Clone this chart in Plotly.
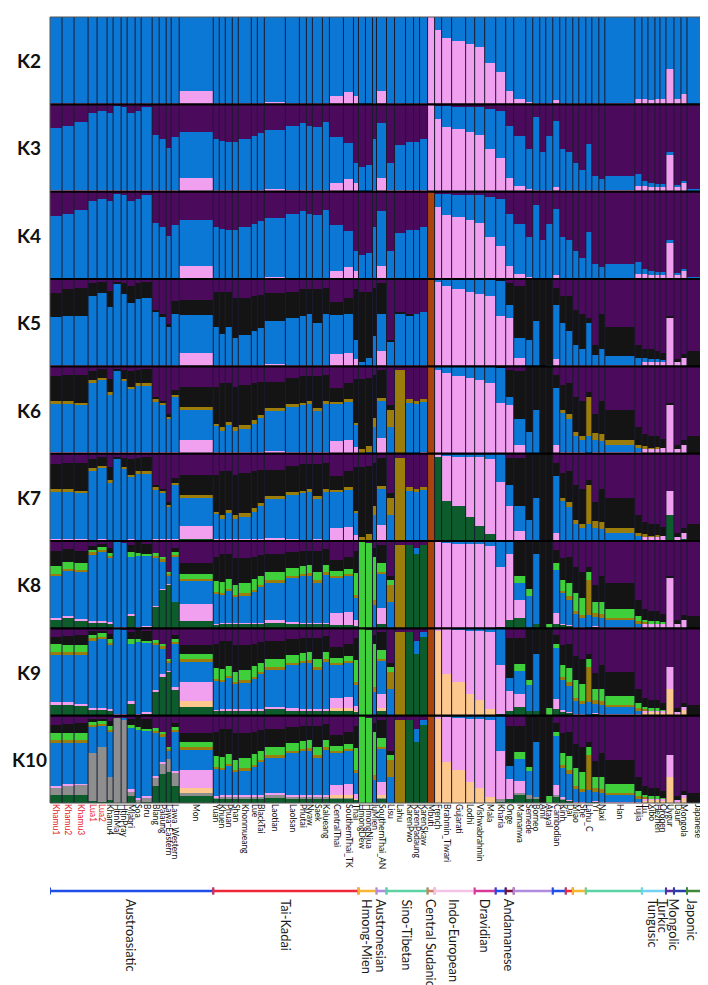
import plotly.graph_objects as go

# populations, left to right, and their widths (number of individuals shown)
populations = [
  "Khamu1", "Khamu2", "Khamu3", "Lua1", "Lua2", "Khamu4", "HtinMal", "HtinPray", "Mlabri", "Soa",
  "Bru", "Blang", "Palaung", "Lawa_Eastern", "Lawa_Western", "Mon", "Yuan", "Khuen", "Phuan", "Shan",
  "Khonmueang", "Lue", "BlackTai", "Laotian", "LaoIsan", "Phutai", "Nyaw", "Saek", "Kalueang", "CentralThai",
  "SouthernThai_TK", "Thai", "HmongDew", "HmongNjua", "IuMien", "SouthernThai_AN", "Lisu", "Lahu", "KarenPwo", "KarenPadaung",
  "KarenSkaw", "Mbuti", "French", "Brahmin_Tiwari", "Gujarati", "Lodhi", "Vishwabrahmin", "Mala", "Kharia", "Onge",
  "Mamanwa", "Semede", "Borneo", "Ami", "Atayal", "Cambodian", "Kinh", "Dai", "Miao", "She",
  "Lahu_C", "Yi", "Naxi", "Han", "Tujia", "Tu", "Xibo", "Hezhen", "Oroqen", "Uygur",
  "Daur", "Mongola", "Japanese",
]
sample_sizes = [
  12, 12, 14, 9, 10, 6, 8, 6, 8, 6,
  11, 7, 7, 5, 8, 34, 6, 6, 7, 6,
  13, 6, 7, 21, 14, 7, 6, 10, 7, 14,
  10, 5, 7, 7, 4, 10, 8, 11, 8, 6,
  8, 7, 7, 10, 14, 9, 10, 11, 10, 8,
  12, 7, 7, 6, 7, 7, 6, 7, 6, 7,
  6, 7, 6, 30, 7, 6, 7, 5, 6, 8,
  7, 6, 21,
]
red_labels = ["Khamu1", "Khamu2", "Khamu3", "Lua1", "Lua2"]

# ancestry proportions (%) per population, one list per K
# B blue, P purple, K pink, N black, O olive, D dark green, G light green, R rust, E peach, Y grey
K2 = [
  "B98 K2", "B98 K2", "B98 K2", "B99 K1", "B98 K2", "B99 K1", "B99 K1", "B99 K1", "B98 K2", "B99 K1",
  "B98 K2", "B99 K1", "B98 K2", "B98 K2", "B98 K2", "B85 K15", "B98 K2", "B99 K1", "B98 K2", "B99 K1",
  "B98 K2", "B99 K1", "B99 K1", "B97 K3", "B98 K2", "B99 K1", "B99 K1", "B98 K2", "B99 K1", "B90 K10",
  "B86 K14", "B90 K10", "B100", "B100", "B99 K1", "B85 K15", "B99 K1", "B99 K1", "B99 K1", "B99 K1",
  "B98 K2", "K100", "B15 K85", "B24 K76", "B28 K72", "B31 K69", "B34 K66", "B53 K47", "B63 K37", "B85 K15",
  "B94 K6", "B97 K3", "B98 K2", "B99 K1", "B99 K1", "B95 K5", "B98 K2", "B99 K1", "B99 K1", "B99 K1",
  "B99 K1", "B99 K1", "B99 K1", "B99 K1", "B94 K6", "B94 K6", "B95 K5", "B94 K6", "B94 K6", "B60 K40",
  "B94 K6", "B88 K12", "B100",
]
K3 = [
  "P28 B70 K2", "P25 B73 K2", "P21 B77 K2", "P10 B89 K1", "P8 B90 K2", "P10 B89 K1", "P2 B97 K1", "P3 B96 K1", "P10 B88 K2", "P8 B91 K1",
  "P3 B95 K2", "P36 B63 K1", "P40 B58 K2", "P50 B48 K2", "P38 B60 K2", "P32 B53 K15", "P40 B58 K2", "P42 B57 K1", "P44 B54 K2", "P44 B55 K1",
  "P40 B58 K2", "P37 B62 K1", "P33 B66 K1", "P30 B67 K3", "P25 B73 K2", "P22 B77 K1", "P25 B74 K1", "P26 B72 K2", "P21 B78 K1", "P38 B52 K10",
  "P45 B41 K14", "P68 B22 K10", "P72 B28", "P70 B30", "P40 B59 K1", "P22 B63 K15", "P67 B32 K1", "P47 B52 K1", "P44 B55 K1", "P44 B55 K1",
  "P40 B58 K2", "K100", "P2 B15 K83", "P2 B24 K74", "P3 B26 K71", "P3 B29 K68", "P4 B31 K65", "P6 B46 K48", "P8 B54 K38", "P25 B60 K15",
  "P37 B57 K6", "P52 B45 K3", "P15 B83 K2", "P55 B44 K1", "P37 B62 K1", "P20 B75 K5", "P52 B46 K2", "P55 B44 K1", "P67 B32 K1", "P75 B24 K1",
  "P46 B53 K1", "P83 B16 K1", "P86 B13 K1", "P82 B17 K1", "P80 B14 K6", "P88 B6 K6", "P90 B5 K5", "P92 B2 K6", "P92 B2 K6", "P55 B3 K42",
  "P93 B1 K6", "P88 B2 K10", "P97 B3",
]
K4 = [
  "P28 B70 K2", "P25 B73 K2", "P21 B77 K2", "P10 B89 K1", "P8 B90 K2", "P10 B89 K1", "P2 B97 K1", "P3 B96 K1", "P10 B88 K2", "P8 B91 K1",
  "P3 B95 K2", "P36 B63 K1", "P40 B58 K2", "P50 B48 K2", "P38 B60 K2", "P32 B53 K15", "P40 B58 K2", "P42 B57 K1", "P44 B54 K2", "P44 B55 K1",
  "P40 B58 K2", "P37 B62 K1", "P33 B66 K1", "P30 B67 K3", "P25 B73 K2", "P22 B77 K1", "P25 B74 K1", "P26 B72 K2", "P21 B78 K1", "P38 B52 K10",
  "P45 B41 K14", "P68 B22 K10", "P72 B28", "P70 B30", "P40 B59 K1", "P22 B63 K15", "P67 B32 K1", "P47 B52 K1", "P44 B55 K1", "P44 B55 K1",
  "P40 B58 K2", "R100", "P2 B15 K83", "P2 B24 K74", "P3 B26 K71", "P3 B29 K68", "P4 B31 K65", "P6 B46 K48", "P8 B54 K38", "P25 B60 K15",
  "P37 B57 K6", "P52 B45 K3", "P15 B83 K2", "P55 B44 K1", "P37 B62 K1", "P20 B75 K5", "P52 B46 K2", "P55 B44 K1", "P67 B32 K1", "P75 B24 K1",
  "P46 B53 K1", "P83 B16 K1", "P86 B13 K1", "P82 B17 K1", "P80 B14 K6", "P88 B6 K6", "P90 B5 K5", "P92 B2 K6", "P92 B2 K6", "P55 B3 K42",
  "P93 B1 K6", "P88 B2 K10", "P97 B3",
]
K5 = [
  "P16 N27 B55 K2", "P12 N30 B56 K2", "P10 N32 B56 K2", "P5 N15 B79 K1", "P3 N13 B82 K2", "P14 N18 B67 K1", "P3 N2 B94 K1", "P5 N12 B82 K1", "P8 N20 B70 K2", "P5 N18 B76 K1",
  "P4 N18 B76 K2", "P35 N3 B60 K2", "P40 N3 B55 K2", "P52 N3 B43 K2", "P25 N15 B58 K2", "P24 N17 B44 K15", "P15 N40 B43 K2", "P15 N48 B35 K2", "P15 N40 B43 K2", "P22 N45 B31 K2",
  "P22 N42 B34 K2", "P20 N40 B39 K1", "P18 N38 B43 K1", "P16 N32 B49 K3", "P15 N30 B53 K2", "P12 N30 B57 K1", "P12 N28 B59 K1", "P12 N38 B48 K2", "P10 N30 B59 K1", "P26 N15 B45 K14",
  "P22 N18 B45 K15", "P12 N58 B22 K8", "P15 N80 B5", "P15 N75 B10", "P10 N55 B34 K1", "P5 N35 B42 K18", "P70 N2 B27 K1", "P38 N2 B59 K1", "P40 N2 B57 K1", "P40 B59 K1",
  "P38 B60 K2", "R100", "B4 K96", "B8 K92", "B12 K88", "B15 K85", "B17 K83", "B20 K80", "N2 B40 K58", "P5 N25 B15 K55",
  "P8 N60 B22 K10", "N70 B30", "N48 B52", "N100", "N98 B2", "P10 N20 B62 K8", "P20 N30 B48 K2", "P20 N40 B38 K2", "P35 N40 B24 K1", "P40 N40 B19 K1",
  "P45 N5 B49 K1", "P75 N12 B12 K1", "P40 N40 B19 K1", "P55 N33 B11 K1", "P75 N15 B8 K2", "P80 N10 B5 K5", "P80 N12 B3 K5", "P82 N10 B2 K6", "P85 N8 B1 K6", "P42 N3 K55",
  "P92 N3 K5", "P86 N4 K10", "P82 N18",
]
K6 = [
  "P12 N28 O4 B54 K2", "P10 N30 O4 B54 K2", "P10 N32 O3 B53 K2", "P6 N10 O3 B80 K1", "P4 N10 O2 B82 K2", "P15 N15 O3 B66 K1", "P3 N2 B94 K1", "P5 N10 O2 B82 K1", "P6 N18 O2 B72 K2", "P5 N15 O2 B77 K1",
  "P4 N16 O2 B76 K2", "P35 N3 O3 B57 K2", "P40 N2 O3 B53 K2", "P55 N3 O3 B37 K2", "P28 N5 O3 B62 K2", "P24 N23 O3 B35 K15", "P24 N42 O3 B29 K2", "P20 N50 O4 B24 K2", "P20 N44 O4 B30 K2", "P24 N46 O4 B24 K2",
  "P22 N46 O4 B26 K2", "P20 N42 O4 B32 K2", "P18 N38 O4 B38 K2", "P18 N30 O4 B45 K3", "P14 N30 O3 B51 K2", "P12 N30 O3 B54 K1", "P12 N28 O3 B56 K1", "P12 N36 O3 B47 K2", "P10 N30 O3 B56 K1", "P25 N16 O3 B42 K14",
  "P20 N18 O3 B44 K15", "P15 N50 O3 B25 K7", "P15 N80 O5", "P14 N78 O6 B2", "P10 N50 O10 B30", "P5 N32 O3 B42 K18", "P45 N5 O20 B30", "P5 O95", "P38 O4 B58", "P40 O3 B57",
  "P38 O3 B57 K2", "R100", "B5 K95", "B8 K92", "B12 K88", "B14 K86", "B16 K84", "B20 K80", "N2 B40 K58", "P5 N30 B10 K55",
  "P6 N55 B30 K9", "N75 B25", "N50 B50", "N100", "N100", "P10 N15 B66 K9", "P22 N28 O4 B44 K2", "P20 N35 O6 B37 K2", "P35 N40 O5 B19 K1", "P40 N40 O5 B14 K1",
  "P30 N5 O45 B20", "P55 N22 O8 B14 K1", "P40 N38 O8 B13 K1", "P50 N35 O5 B9 K1", "P70 N20 O4 B4 K2", "P78 N14 O2 B1 K5", "P80 N14 O1 K5", "P80 N13 O1 K6", "P84 N10 K6", "P42 N3 K55",
  "P90 N5 K5", "P85 N5 K10", "P80 N20",
]
K7 = [
  "P12 N28 O4 B53 K2 D1", "P10 N30 O4 B53 K2 D1", "P10 N32 O3 B52 K2 D1", "P6 N10 O3 B79 K1 D1", "P4 N10 O2 B81 K2 D1", "P15 N15 O3 B65 K1 D1", "P3 N2 B94 K1", "P5 N10 O2 B82 K1", "P6 N18 O2 B71 K2 D1", "P5 N15 O2 B77 K1",
  "P4 N16 O2 B76 K2", "P35 N3 O3 B56 K2 D1", "P40 N2 O3 B52 K2 D1", "P55 N3 O3 B36 K2 D1", "P28 N5 O3 B61 K2 D1", "P24 N23 O3 B33 K14 D3", "P24 N42 O3 B28 K2 D1", "P20 N50 O4 B23 K2 D1", "P20 N44 O4 B29 K2 D1", "P24 N46 O4 B23 K2 D1",
  "P22 N46 O4 B25 K2 D1", "P20 N42 O4 B31 K2 D1", "P18 N38 O4 B37 K2 D1", "P18 N30 O4 B44 K3 D1", "P14 N30 O3 B50 K2 D1", "P12 N30 O3 B54 K1", "P12 N28 O3 B56 K1", "P12 N36 O3 B46 K2 D1", "P10 N30 O3 B56 K1", "P25 N16 O3 B41 K13 D2",
  "P20 N18 O3 B43 K14 D2", "P15 N50 O3 B25 K6 D1", "P15 N80 O5", "P14 N78 O6 B2", "P10 N50 O10 B30", "P5 N32 O3 B41 K17 D2", "P45 N5 O20 B30", "P5 O95", "P38 O4 B58", "P40 O3 B57",
  "P38 O3 B57 K2", "R100", "D97 K3", "D46 K52 B2", "D40 K57 B3", "D28 K68 B4", "D18 K78 B4", "D8 K86 B6", "D2 B32 K66", "P5 N30 B25 K40",
  "P5 N55 B28 K12", "N75 B25", "N50 B50", "N100", "N100", "P10 N15 B66 K8 D1", "P22 N28 O4 B44 K1 D1", "P20 N35 O6 B37 K1 D1", "P35 N40 O5 B19 K1", "P40 N40 O5 B14 K1",
  "P30 N5 O45 B20", "P55 N22 O8 B14 K1", "P40 N38 O8 B13 K1", "P50 N35 O5 B9 K1", "P70 N20 O4 B4 K1 D1", "P78 N14 O2 B1 K3 D2", "P80 N14 O1 K3 D2", "P80 N13 O1 K4 D2", "P84 N10 K4 D2", "P42 K28 D30",
  "P90 N5 K3 D2", "P85 N5 K7 D3", "P80 N20",
]
K8 = [
  "P11 N18 G9 O2 B48 K2 D10", "P9 N15 G8 O2 B52 K2 D12", "P12 N13 G8 O2 B54 K2 D9", "P6 N4 G3 O2 B77 K1 D7", "P4 N3 G3 O2 B80 K1 D7", "P8 N6 G3 O2 B74 K1 D6", "P1 B98 K1", "P2 B97 K1", "P5 N8 G5 B66 K1 D15", "P1 N13 G3 B82 K1",
  "P3 N12 G2 B80 K1 D2", "P14 G3 O2 B55 K1 D25", "P18 G3 O2 B32 K1 D44", "P35 G2 O2 B10 K1 D50", "P8 N5 G3 O2 B52 D30", "P25 N13 G5 O2 B27 K20 D8", "P18 N28 G12 O2 B35 K1 D4", "P15 N32 G12 O2 B33 K1 D5", "P15 N28 G12 O2 B37 K1 D5", "P20 N30 G12 O2 B30 K1 D5",
  "P20 N28 G12 O2 B32 K1 D5", "P18 N26 G12 O2 B36 K1 D5", "P16 N24 G10 O2 B42 K1 D5", "P15 N20 G10 O2 B44 K3 D6", "P13 N18 G9 O2 B51 K2 D5", "P11 N18 G9 O2 B54 K1 D5", "P11 N17 G9 O2 B55 K1 D5", "P11 N24 G10 O2 B47 K1 D5", "P9 N18 G9 O2 B56 K1 D5", "P22 N12 G6 O2 B40 K14 D4",
  "P18 N14 G6 O2 B41 K15 D4", "P12 N25 G25 O3 B25 K7 D3", "G100", "P2 G98", "P8 N10 G50 O5 B27", "P5 N20 G10 O2 B40 K18 D5", "P40 N5 G5 O20 B30", "P5 O95", "P5 D95", "P8 B7 D85",
  "P5 D95", "R100", "K100", "B2 K98", "B3 K97", "B4 K96", "B4 K96", "B6 K94", "B30 K68 D2", "B15 K75 D10",
  "N40 G8 B20 K20 D12", "N55 G8 B35 D2", "N15 B80 D5", "N100", "N95 G5", "P10 N15 G8 B50 K12 D5", "P20 N25 G12 O3 B35 K1 D4", "P18 N30 G15 O4 B29 K1 D3", "P30 N30 G20 O4 B14 K1 D1", "P35 N30 G20 O3 B11 K1",
  "P30 N5 G10 O40 B15", "P50 N20 G12 O5 B10 K1 D2", "P40 N30 G14 O4 B10 K1 D1", "P48 N30 G10 O3 B8 K1", "P68 N18 G6 O2 B4 K2", "P78 N12 G3 O1 B1 K5", "P80 N12 G2 K6", "P80 N12 G2 K6", "P84 N9 G1 K6", "P40 N2 K58",
  "P90 N5 K5", "P85 N5 K10", "P86 N14",
]
K9 = [
  "P10 N8 G10 O2 B55 K3 D12", "P9 N10 G9 O2 B55 K3 D12", "P8 N12 G8 O2 B57 K2 D11", "P4 N4 G4 O2 B78 K1 D7", "P3 N3 G4 O2 B80 K1 D7", "P7 N6 G4 O2 B74 K1 D6", "P1 B98 K1", "P2 B97 K1", "P5 N8 G5 B66 K2 D14", "P1 N12 G3 B82 K2",
  "P3 N12 G2 B79 K2 D2", "P14 G3 O2 B52 K2 D27", "P18 G3 O2 B30 K2 D45", "P35 G2 O2 B10 K1 D50", "P8 N5 G3 O2 B50 K2 D30", "P20 N10 G6 O2 B24 K22 E6 D10", "P18 N28 G12 O2 B34 K1 D5", "P15 N32 G12 O2 B32 K1 D6", "P15 N28 G12 O2 B36 K1 D6", "P20 N30 G12 O2 B29 K1 D6",
  "P20 N28 G12 O2 B31 K1 D6", "P18 N26 G12 O2 B35 K1 D6", "P16 N24 G10 O2 B41 K1 D6", "P15 N20 G10 O2 B43 K3 D7", "P13 N18 G9 O2 B50 K2 D6", "P11 N18 G9 O2 B53 K1 D6", "P11 N17 G9 O2 B54 K1 D6", "P11 N24 G10 O2 B46 K1 D6", "P9 N18 G9 O2 B55 K1 D6", "P22 N12 G6 O2 B38 K12 E3 D5",
  "P18 N14 G6 O2 B39 K13 E3 D5", "P12 N25 G25 O3 B24 K6 E1 D4", "G100", "P2 G98", "P8 N10 G50 O5 B27", "P5 N20 G10 O2 B39 K16 E2 D6", "P40 N5 G5 O20 B30", "P5 O95", "P5 D95", "P15 B15 D70",
  "P5 B5 D90", "R100", "E97 K3", "E47 K52 B1", "E38 K60 B2", "E24 K73 B3", "E17 K80 B3", "E7 K88 B5", "B42 K56 D2", "P12 N45 B15 K23 D5",
  "P12 N29 G8 B27 K15 D9", "N60 G5 B30 D5", "N30 B65 D5", "N100", "N92 G8", "P8 N10 G5 B58 K12 D7", "P20 N22 G14 O3 B35 K2 D4", "P18 N28 G16 O4 B30 K1 D3", "P32 N28 G20 O4 B14 K1 D1", "P36 N28 G20 O3 B12 K1",
  "P30 N5 G10 O40 B15", "P52 N18 G12 O5 B10 K1 D2", "P42 N28 G14 O4 B10 K1 D1", "P50 N28 G10 O3 B8 K1", "P70 N16 G6 O2 B4 K1 E1", "P80 N10 G3 O1 B1 K2 E3", "P82 N10 G2 K2 E4", "P82 N10 G2 K2 E4", "P86 N8 G1 K2 E3", "P45 K25 E30",
  "P92 N4 K2 E2", "P86 N4 K4 E6", "P88 N12",
]
K10 = [
  "P10 N9 G9 O2 B50 Y8 K2 D10", "P9 N10 G9 O2 B48 Y10 K2 D10", "P8 N12 G8 O2 B48 Y12 K1 D9", "P4 N3 G3 O2 B30 Y55 D3", "P3 N3 G3 O2 B25 Y62 D2", "P6 N6 G4 O2 B52 Y26 D4", "P2 Y98", "P2 B2 Y96", "P4 N6 G4 B70 Y6 K2 D8", "P1 N12 G3 B78 Y4 K2",
  "P3 N12 G2 B75 Y6 K1 D1", "P14 G3 O2 B50 Y10 K1 D20", "P18 G3 O2 B30 Y12 K1 D34", "P35 G2 O2 B10 Y15 D36", "P8 N5 G3 O2 B45 Y15 K2 D20", "P20 N10 G6 O2 B24 Y4 K20 E6 D8", "P18 N28 G12 O2 B32 Y2 K1 D5", "P15 N32 G12 O2 B30 Y2 K1 D6", "P15 N28 G12 O2 B34 Y2 K1 D6", "P20 N30 G12 O2 B27 Y2 K1 D6",
  "P20 N28 G12 O2 B29 Y2 K1 D6", "P18 N26 G12 O2 B33 Y2 K1 D6", "P16 N24 G10 O2 B39 Y2 K1 D6", "P15 N20 G10 O2 B41 Y2 K3 D7", "P13 N18 G9 O2 B48 Y2 K2 D6", "P11 N18 G9 O2 B51 Y2 K1 D6", "P11 N17 G9 O2 B52 Y2 K1 D6", "P11 N24 G10 O2 B44 Y2 K1 D6", "P9 N18 G9 O2 B53 Y2 K1 D6", "P22 N12 G6 O2 B37 Y1 K12 E3 D5",
  "P18 N14 G6 O2 B38 Y1 K13 E3 D5", "P12 N25 G25 O3 B24 K6 E1 D4", "G100", "P2 G98", "P8 N10 G50 O5 B27", "P5 N20 G10 O2 B38 Y1 K16 E2 D6", "P40 N5 G5 O20 B30", "P5 O95", "P5 D95", "P15 B15 D70",
  "P5 B5 D90", "R100", "E97 K3", "E47 K52 B1", "E38 K60 B2", "E24 K73 B3", "E17 K80 B3", "E7 K88 B5", "B40 Y3 K55 D2", "P12 N45 B15 K23 D5",
  "P12 N29 G8 B25 Y3 K14 D9", "N58 G5 B27 Y5 D5", "N30 B63 Y2 D5", "N100", "N92 G8", "P8 N10 G5 B56 Y3 K11 D7", "P20 N22 G14 O3 B34 Y1 K2 D4", "P18 N28 G16 O4 B30 K1 D3", "P32 N28 G20 O4 B14 K1 D1", "P36 N28 G20 O3 B12 K1",
  "P30 N5 G10 O40 B15", "P52 N18 G12 O5 B10 K1 D2", "P42 N28 G14 O4 B10 K1 D1", "P50 N28 G10 O3 B8 K1", "P70 N16 G6 O2 B4 K1 E1", "P80 N10 G3 O1 B1 K2 E3", "P82 N10 G2 K2 E4", "P82 N10 G2 K2 E4", "P86 N8 G1 K2 E3", "P45 K25 E30",
  "P92 N4 K2 E2", "P86 N4 K4 E6", "P88 N12",
]
row_names = ["K2", "K3", "K4", "K5", "K6", "K7", "K8", "K9", "K10"]
rows = [K2, K3, K4, K5, K6, K7, K8, K9, K10]

# language families: (name, first population, last population)
families = [
  ("Austroasiatic", 0, 15), ("Tai-Kadai", 16, 31), ("Hmong-Mien", 32, 34), ("Austronesian", 35, 35),
  ("Sino-Tibetan", 36, 40), ("Central Sudanic", 41, 41), ("Indo-European", 42, 45), ("Dravidian", 46, 47),
  ("Austroasiatic", 48, 48), ("Andamanese", 49, 49), ("Austronesian", 50, 54), ("Austroasiatic", 55, 56),
  ("Tai-Kadai", 57, 57), ("Hmong-Mien", 58, 59), ("Sino-Tibetan", 60, 64), ("Tungusic", 65, 68),
  ("Turkic", 69, 69), ("Mongolic", 70, 71), ("Japonic", 72, 72),
]

comp_colors = {
  "D": "#0d5c2c", "Y": "#8e8e8e", "E": "#fcc88e", "K": "#f0a0ee", "B": "#0a78d4",
  "O": "#9b7d0c", "G": "#3fcf3a", "N": "#141414", "P": "#4b0a5c", "R": "#a8440c",
}
stack_order = ["D", "Y", "E", "K", "B", "O", "G", "N", "P", "R"]
family_colors = {
  "Austroasiatic": "#1f4ee8", "Tai-Kadai": "#ee2a3a", "Hmong-Mien": "#f7b531", "Austronesian": "#b08be0",
  "Sino-Tibetan": "#5cd3a5", "Central Sudanic": "#cf7d5e", "Indo-European": "#f5c2e8", "Dravidian": "#d8379a",
  "Andamanese": "#7b1138", "Tungusic": "#6fd2f2", "Turkic": "#5b2aa0", "Mongolic": "#2b3ea8", "Japonic": "#3d8a3a",
}
label_shift = {"Turkic": -7, "Mongolic": -6, "Japonic": -5}

W, H = 708, 985
x0p, x1p = 42 / W, 700 / W
ytop, ybot = 1 - 9 / H, 1 - 795 / H
rh = (ytop - ybot) / len(rows)

edges = [0]
for s in sample_sizes:
  edges.append(edges[-1] + s)
centers = [(edges[i] + edges[i + 1]) / 2 for i in range(len(sample_sizes))]
total = edges[-1]


def parse(entry):
  vals = {}
  for tok in entry.split():
    vals[tok[0]] = float(tok[1:])
  tot = sum(vals.values())
  return {k: 100 * v / tot for k, v in vals.items()}


fig = go.Figure()
layout = {}
for r, (name, data) in enumerate(zip(row_names, rows)):
  parsed = [parse(e) for e in data]
  sfx = "" if r == 0 else str(r + 1)
  for c in stack_order:
    ys = [p.get(c, 0) for p in parsed]
    if not any(ys):
      continue
    fig.add_trace(go.Bar(
      x=centers, y=ys, width=sample_sizes, marker=dict(color=comp_colors[c], line=dict(width=0)),
      xaxis="x" + sfx, yaxis="y" + sfx, showlegend=False, hoverinfo="skip",
    ))
  top = ytop - r * rh
  last = r == len(rows) - 1
  layout["xaxis" + sfx] = dict(
    domain=[x0p, x1p], range=[0, total], anchor="y" + sfx, showgrid=False, zeroline=False,
    showticklabels=last, ticks="", automargin=False,
  )
  layout["yaxis" + sfx] = dict(
    domain=[top - rh, top], range=[0, 100], anchor="x" + sfx, showgrid=False, zeroline=False,
    showticklabels=False, automargin=False,
  )

ticktext = [f"<span style='color:#e3202b'>{p}</span>" if p in red_labels else p for p in populations]
layout["xaxis" + str(len(rows))].update(
  tickvals=centers, ticktext=ticktext, tickangle=90,
  tickfont=dict(family="Lato, Open Sans, sans-serif", size=8.5, color="#111"),
)

shapes = []
# population separators
for e in edges[1:-1]:
  shapes.append(dict(type="line", xref="x", yref="paper", x0=e, x1=e, y0=ybot, y1=ytop,
                     line=dict(color="#1b1b30", width=1)))
# row separators and frame
for r in range(len(rows) + 1):
  y = ytop - r * rh
  inner = 0 < r < len(rows)
  shapes.append(dict(type="line", xref="paper", yref="paper", x0=x0p, x1=x1p, y0=y, y1=y,
                     line=dict(color="#000" if inner else "#555", width=2.2 if inner else 1)))
shapes.append(dict(type="line", xref="paper", yref="paper", x0=x0p, x1=x0p, y0=ybot, y1=ytop, line=dict(color="#555", width=1)))
shapes.append(dict(type="line", xref="paper", yref="paper", x0=x1p, x1=x1p, y0=ybot, y1=ytop, line=dict(color="#111", width=1.5)))

annotations = []
for r, name in enumerate(row_names):
  annotations.append(dict(
    xref="paper", yref="paper", x=21 / W, y=ytop - (r + 0.5) * rh, text=f"<b>{name}</b>", showarrow=False,
    font=dict(family="Lato, Open Sans, sans-serif", size=19, color="#111"), xanchor="center", yanchor="middle",
  ))

# language family bar
yline = 1 - 883 / H
cap = 3.5 / H
seen = set()
for fname, a, b in families:
  col = family_colors[fname]
  xa, xb = edges[a], edges[b + 1]
  shapes.append(dict(type="line", xref="x", yref="paper", x0=xa, x1=xb, y0=yline, y1=yline, line=dict(color=col, width=2.5)))
  for xe in (xa, xb):
    shapes.append(dict(type="line", xref="x", yref="paper", x0=xe, x1=xe, y0=yline - cap, y1=yline + cap, line=dict(color=col, width=2)))
  if fname not in seen:
    seen.add(fname)
    annotations.append(dict(
      xref="x", yref="paper", x=(xa + xb) / 2, y=yline - 7 / H, text=fname, textangle=90, showarrow=False,
      xanchor="center", yanchor="top", xshift=label_shift.get(fname, 0), borderpad=0,
      font=dict(family="Lato, Open Sans, sans-serif", size=12.8, color="#1a1a1a"),
    ))

fig.update_layout(
  width=W, height=H, margin=dict(l=0, r=0, t=0, b=0), paper_bgcolor="white", plot_bgcolor="white",
  barmode="stack", bargap=0, shapes=shapes, annotations=annotations, **layout,
)

fig.write_html("out.html")
